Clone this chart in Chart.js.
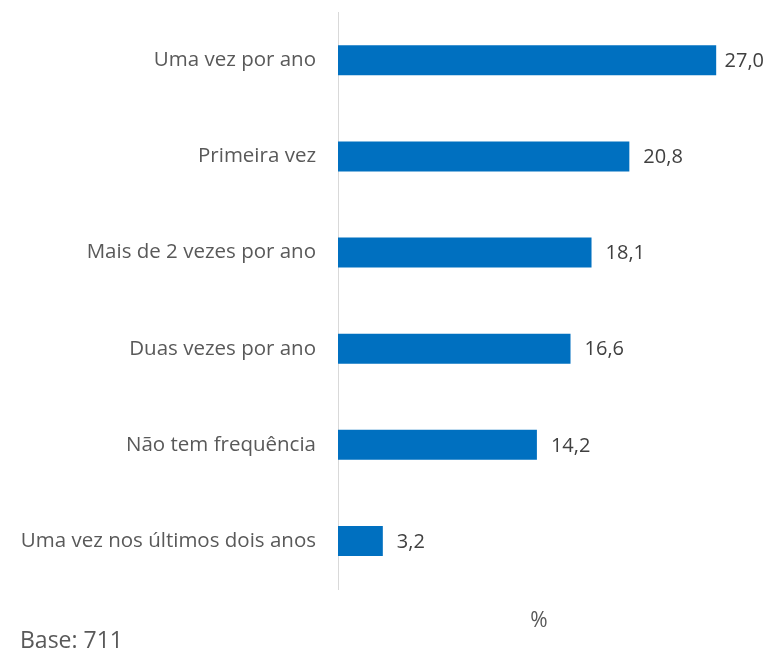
<!DOCTYPE html>
<html lang="pt">
<head>
    <meta charset="UTF-8">
    <title>Frequência</title>
    <script src="https://cdn.jsdelivr.net/npm/chart.js"></script>
    <style>
        html, body { margin: 0; padding: 0; background: #fff; }
        #wrap { width: 768px; height: 654px; position: relative; }
    </style>
</head>
<body>
    <div id="wrap">
        <canvas id="myChart" width="768" height="654"></canvas>
    </div>
    <script>
        const categorias = [
            'Uma vez por ano',
            'Primeira vez',
            'Mais de 2 vezes por ano',
            'Duas vezes por ano',
            'Não tem frequência',
            'Uma vez nos últimos dois anos'
        ];
        const percentuais = [27.0, 20.8, 18.1, 16.6, 14.2, 3.2];
        const eixoMax = 28.7;
        const tituloEixo = '%';
        const notaBase = 'Base: 711';

        const fonte = "'Open Sans', 'DejaVu Sans', sans-serif";

        // rótulos de valor no fim das barras + textos de rodapé
        const textosExtras = {
            id: 'textosExtras',
            afterDatasetsDraw(chart) {
                const ctx = chart.ctx;
                const meta = chart.getDatasetMeta(0);
                ctx.save();
                ctx.font = '20px ' + fonte;
                ctx.fillStyle = '#404040';
                ctx.textBaseline = 'middle';
                ctx.textAlign = 'left';
                meta.data.forEach((bar, i) => {
                    const txt = percentuais[i].toFixed(1).replace('.', ',');
                    const w = ctx.measureText(txt).width;
                    let x = bar.x + 14;
                    if (x + w > chart.width - 4) x = chart.width - 4 - w;
                    ctx.fillText(txt, x, bar.y + 1);
                });

                const area = chart.chartArea;
                ctx.textAlign = 'center';
                ctx.fillStyle = '#595959';
                ctx.font = '21px ' + fonte;
                ctx.fillText(tituloEixo, (area.left + area.right) / 2, 621);

                ctx.textAlign = 'left';
                ctx.font = '23px ' + fonte;
                ctx.fillText(notaBase, 20, 641);
                ctx.restore();
            }
        };

        const ctx = document.getElementById('myChart').getContext('2d');
        const myChart = new Chart(ctx, {
            type: 'bar',
            data: {
                labels: categorias,
                datasets: [{
                    data: percentuais,
                    backgroundColor: '#0070C0',
                    borderWidth: 0,
                    categoryPercentage: 1,
                    barPercentage: 0.312
                }]
            },
            options: {
                indexAxis: 'y',
                responsive: false,
                animation: false,
                layout: {
                    padding: { top: 12, right: 28, bottom: 65, left: 0 }
                },
                plugins: {
                    legend: { display: false },
                    tooltip: { enabled: false }
                },
                scales: {
                    x: {
                        display: false,
                        min: 0,
                        max: eixoMax
                    },
                    y: {
                        afterFit(scale) { scale.width = 338; },
                        // marcas invisíveis só para afastar os rótulos do eixo
                        grid: { display: true, color: 'transparent', drawTicks: true, tickLength: 22 },
                        border: { display: true, color: '#d9d9d9', width: 1 },
                        ticks: {
                            padding: 0,
                            color: '#595959',
                            font: { family: fonte, size: 20.5 }
                        }
                    }
                }
            },
            plugins: [textosExtras]
        });
    </script>
</body>
</html>
